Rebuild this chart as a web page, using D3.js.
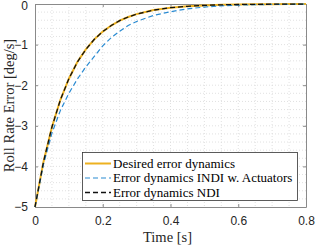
<!DOCTYPE html>
<html>
<head>
<meta charset="utf-8">
<title>Roll rate error</title>
<style>
  body { margin: 0; background: #fff; }
  svg text.serif { font-family: "Liberation Serif", "Times New Roman", Times, "DejaVu Serif", serif; }
</style>
<script src="https://d3js.org/d3.v7.min.js"></script>
</head>
<body>
<svg id="chart" width="316" height="247"></svg>
<script>
// values
var time = [0, 0.025, 0.05, 0.075, 0.1, 0.125, 0.15, 0.175, 0.2, 0.225, 0.25, 0.275, 0.3,
            0.35, 0.4, 0.45, 0.5, 0.55, 0.6, 0.65, 0.7, 0.75, 0.8];
var desired = [-5, -3.89, -3.03, -2.36, -1.84, -1.43, -1.12, -0.87, -0.68, -0.53, -0.41, -0.32, -0.25,
               -0.15, -0.09, -0.056, -0.034, -0.02, -0.012, -0.008, -0.005, -0.003, -0.002];
var indi = [-5, -3.95, -3.18, -2.62, -2.2, -1.85, -1.55, -1.29, -1.03, -0.83, -0.67, -0.53, -0.43,
            -0.28, -0.19, -0.12, -0.075, -0.045, -0.028, -0.017, -0.01, -0.006, -0.004];
var ndi = [-5, -3.89, -3.03, -2.36, -1.84, -1.43, -1.12, -0.87, -0.68, -0.53, -0.41, -0.32, -0.25,
           -0.15, -0.09, -0.056, -0.034, -0.02, -0.012, -0.008, -0.005, -0.003, -0.002];
var xTicks = [0, 0.2, 0.4, 0.6, 0.8];
var yTicks = [0, -1, -2, -3, -4, -5];
var legendNames = ["Desired error dynamics", "Error dynamics INDI w. Actuators", "Error dynamics NDI"];

var SANS = "Liberation Sans, Arial, sans-serif";

var svg = d3.select("#chart");
var L = 35, R = 306, T = 4, B = 207;

var x = d3.scaleLinear().domain([0, 0.8]).range([L, R]);
var y = d3.scaleLinear().domain([-5, 0]).range([B, T]);

// grid (minor + major, dotted)
var g = svg.append("g");
g.selectAll(".gx").data(d3.range(0.05, 0.8, 0.05)).enter().append("line")
  .attr("x1", d => x(d)).attr("x2", d => x(d)).attr("y1", T).attr("y2", B)
  .attr("stroke", "#d9d9d9").attr("stroke-width", 0.8).attr("stroke-dasharray", "1,2");
g.selectAll(".gy").data(d3.range(-4.8, 0, 0.2)).enter().append("line")
  .attr("y1", d => y(d)).attr("y2", d => y(d)).attr("x1", L).attr("x2", R)
  .attr("stroke", "#d9d9d9").attr("stroke-width", 0.8).attr("stroke-dasharray", "1,2");

// axes
var ax = svg.append("g").attr("transform", "translate(0," + B + ")")
  .call(d3.axisBottom(x).tickValues(xTicks).tickFormat(d => d === 0 ? "0" : d3.format(".1f")(d))
    .tickSizeInner(-3).tickSizeOuter(0).tickPadding(9));
var ay = svg.append("g").attr("transform", "translate(" + L + ",0)")
  .call(d3.axisLeft(y).tickValues(yTicks).tickFormat(d3.format("d"))
    .tickSizeInner(-3).tickSizeOuter(0).tickPadding(7));
svg.append("g").attr("transform", "translate(0," + T + ")")
  .call(d3.axisTop(x).tickValues(xTicks).tickFormat("").tickSizeInner(-3).tickSizeOuter(0));
svg.append("g").attr("transform", "translate(" + R + ",0)")
  .call(d3.axisRight(y).tickValues(yTicks).tickFormat("").tickSizeInner(-3).tickSizeOuter(0));
svg.selectAll(".domain, .tick line").attr("stroke", "#8a8a8a");
svg.selectAll(".tick text").attr("font-family", SANS).attr("font-size", 12).attr("fill", "#262626");
ay.selectAll(".tick text").filter(d => d === 0).attr("dy", "0.45em");

// curves
var line = d3.line().x((d, i) => x(time[i])).y(d => y(d));
svg.append("path").datum(desired).attr("d", line)
  .attr("fill", "none").attr("stroke", "#EDB120").attr("stroke-width", 2);
svg.append("path").datum(indi).attr("d", line)
  .attr("fill", "none").attr("stroke", "#2a8bd2").attr("stroke-width", 1.2).attr("stroke-dasharray", "5,3");
svg.append("path").datum(ndi).attr("d", line)
  .attr("fill", "none").attr("stroke", "#111").attr("stroke-width", 1.3).attr("stroke-dasharray", "5,3");

// labels
svg.append("text").attr("class", "serif").attr("x", x(0.4) - 3).attr("y", 242)
  .attr("font-size", 14.5).attr("fill", "#262626")
  .attr("text-anchor", "middle").text("Time [s]");
svg.append("text").attr("class", "serif")
  .attr("font-size", 14.5).attr("fill", "#262626")
  .attr("transform", "translate(14," + ((T + B) / 2) + ") rotate(-90)")
  .attr("text-anchor", "middle").text("Roll Rate Error [deg/s]");

// legend
var lg = svg.append("g");
lg.append("rect").attr("x", 82.5).attr("y", 152.5).attr("width", 215).attr("height", 48)
  .attr("fill", "#fff").attr("stroke", "#333").attr("stroke-width", 0.8);
var legColors = ["#EDB120", "#2a8bd2", "#111"];
var legDash = [null, "5,3", "5,3"];
var legWidth = [2, 1.2, 1.3];
legendNames.forEach(function (n, i) {
  var yy = 163.5 + i * 14.5;
  lg.append("line").attr("x1", 85).attr("x2", 111).attr("y1", yy).attr("y2", yy)
    .attr("stroke", legColors[i]).attr("stroke-width", legWidth[i]).attr("stroke-dasharray", legDash[i]);
  lg.append("text").attr("class", "serif").attr("x", 113).attr("y", yy + 4)
    .attr("font-size", 13).attr("fill", "#000").text(n);
});
</script>
</body>
</html>
